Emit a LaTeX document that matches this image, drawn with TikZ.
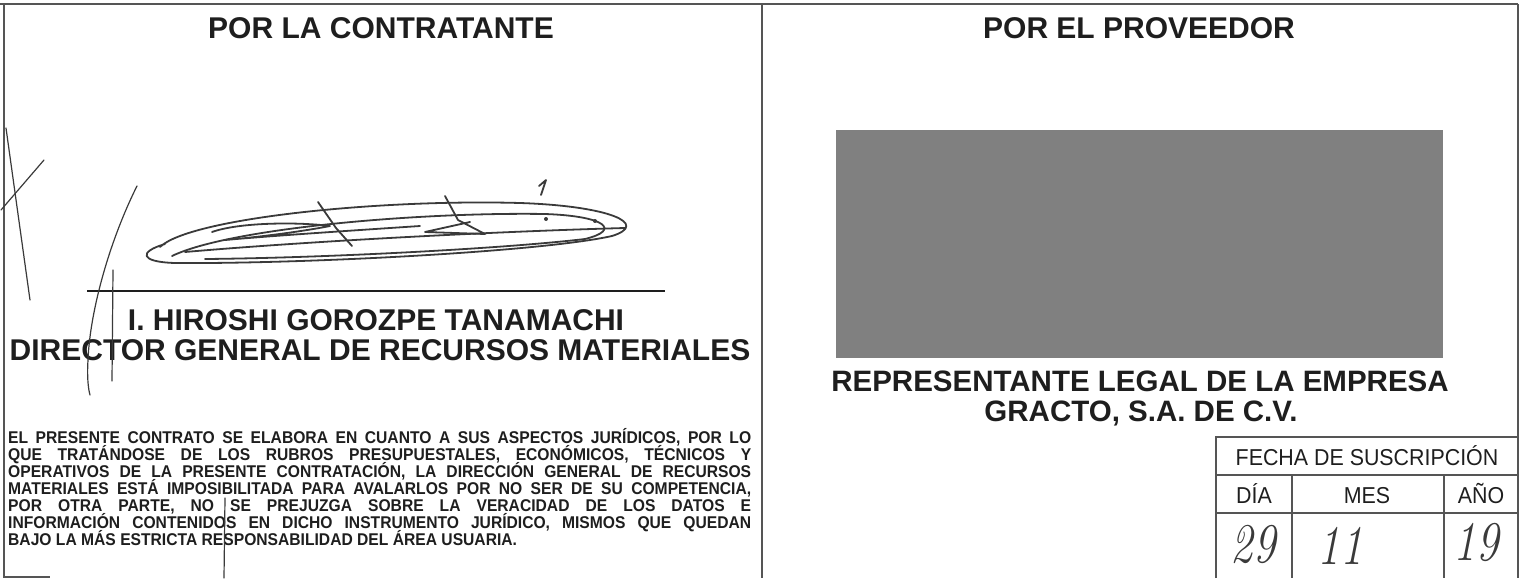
\documentclass[tikz,border=0pt]{standalone}
\usepackage{fontspec}
\newfontfamily\arial{Liberation Sans}
\newfontfamily\arialn[FakeStretch=0.92]{Liberation Sans}
\newfontfamily\arialt[FakeStretch=0.93]{Liberation Sans}
\newfontfamily\hand{Latin Modern Roman}
\definecolor{ink}{HTML}{1E1E1E}
\definecolor{rule}{HTML}{555555}
\definecolor{pen}{HTML}{3A3A3A}
\definecolor{veil}{HTML}{808080}
\tikzset{
  frame/.style={draw=rule, line width=1.4pt},
  cell/.style={draw=rule, line width=1.1pt},
  heading/.style={inner sep=0pt, text=ink, font=\arial\bfseries\fontsize{30}{32}\selectfont},
  bigname/.style={inner sep=0pt, text=ink, font=\arial\bfseries\fontsize{29.5}{31}\selectfont},
  para/.style={inner sep=0pt, anchor=base west, text=ink, font=\arialn\bfseries\fontsize{17}{17}\selectfont},
  tabtext/.style={inner sep=0pt, anchor=base, text=ink, font=\arialt\fontsize{23}{25}\selectfont},
  handtext/.style={inner sep=0pt, anchor=base, text=pen, font=\hand\itshape\fontsize{56}{58}\selectfont},
  sig/.style={draw=pen, line width=1.8pt, line cap=round, line join=round},
  stray/.style={draw=pen, line width=1.2pt, line cap=round}
}
\newcommand{\jline}[1]{\makebox[743pt][s]{#1}}
\newcommand{\handnum}[1]{\scalebox{0.8}[1]{#1}}
\begin{document}
\begin{tikzpicture}[x=1pt,y=-1pt]
\useasboundingbox (0,0) rectangle (1530,578);
% frame
\coordinate (tl) at (4,4);
\coordinate (tr) at (1518,4);
\coordinate (bl) at (4,578);
\coordinate (tm) at (762,4);
\coordinate (bm) at (762,578);
\coordinate (br) at (1518,437);
\coordinate (blend) at (50,577);
\coordinate (blstart) at (4,577);
\draw[frame] (0,4) -- (tr);
\draw[frame] (tl) -- (bl);
\draw[frame] (tm) -- (bm);
\draw[frame] (tr) -- (br);
\draw[frame] (blstart) -- (blend);

% titles
\node[heading, anchor=base] (t1) at (381,38) {POR LA CONTRATANTE};
\node[heading, anchor=base] (t2) at (1139,38) {POR EL PROVEEDOR};

% signature line and names
\coordinate (sl1) at (87,291);
\coordinate (sl2) at (665,291);
\draw[draw=ink, line width=1.6pt] (sl1) -- (sl2);
\node[heading, anchor=base] (n1) at (376,330) {I. HIROSHI GOROZPE TANAMACHI};
\node[heading, anchor=base] (n2) at (380,360) {DIRECTOR GENERAL DE RECURSOS MATERIALES};

% paragraph
\node[para] (p1) at (8,443) {\jline{EL PRESENTE CONTRATO SE ELABORA EN CUANTO A SUS ASPECTOS JURÍDICOS, POR LO}};
\node[para] (p2) at (8,460) {\jline{QUE TRATÁNDOSE DE LOS RUBROS PRESUPUESTALES, ECONÓMICOS, TÉCNICOS Y}};
\node[para] (p3) at (8,477) {\jline{OPERATIVOS DE LA PRESENTE CONTRATACIÓN, LA DIRECCIÓN GENERAL DE RECURSOS}};
\node[para] (p4) at (8,494) {\jline{MATERIALES ESTÁ IMPOSIBILITADA PARA AVALARLOS POR NO SER DE SU COMPETENCIA,}};
\node[para] (p5) at (8,511) {\jline{POR OTRA PARTE, NO SE PREJUZGA SOBRE LA VERACIDAD DE LOS DATOS E}};
\node[para] (p6) at (8,528) {\jline{INFORMACIÓN CONTENIDOS EN DICHO INSTRUMENTO JURÍDICO, MISMOS QUE QUEDAN}};
\node[para] (p7) at (8,545) {BAJO LA MÁS ESTRICTA RESPONSABILIDAD DEL ÁREA USUARIA.};

% signature scribble
\draw[sig] (160,247) .. controls (190,218) and (380,199) .. (520,203)
  .. controls (610,206) and (650,224) .. (612,236)
  .. controls (540,252) and (300,264) .. (175,263)
  .. controls (140,262) and (138,252) .. (165,244);
\draw[sig] (172,256) .. controls (230,228) and (420,212) .. (545,214)
  .. controls (605,216) and (622,230) .. (585,239)
  .. controls (500,249) and (320,258) .. (205,259);
\draw[sig] (185,252) .. controls (300,242) and (480,232) .. (625,228);
\draw[sig] (212,232) .. controls (240,222) and (300,222) .. (330,226)
  .. controls (300,232) and (250,238) .. (225,240)
  .. controls (270,236) and (330,232) .. (420,226);
\draw[sig] (318,202) -- (336,228) -- (352,246);
\draw[sig] (445,196) -- (458,220) -- (485,234) -- (425,232) -- (470,222);
\draw[sig] (541,195) -- (546,180) -- (539,186);
\fill[pen] (546,219) circle (2pt);
\fill[pen] (595,221) circle (2pt);

% stray pen marks on the left
\draw[stray] (6,128) -- (30,300);
\draw[stray] (1,210) -- (44,160);
\draw[stray] (137,186) .. controls (110,240) and (90,310) .. (88,360)
  .. controls (87,375) and (88,388) .. (90,395);
\draw[stray] (113,270) -- (112,381);
\draw[stray] (225,498) -- (224,578);

% provider block
\node[fill=veil, draw=none, minimum width=607pt, minimum height=228pt, inner sep=0pt, anchor=north west] (veilbox) at (836,130) {};
\node[bigname, anchor=base] (r1) at (1140,391) {REPRESENTANTE LEGAL DE LA EMPRESA};
\node[bigname, anchor=base] (r2) at (1141,421) {GRACTO, S.A. DE C.V.};

% date table
\coordinate (ta) at (1216,437);
\coordinate (tb) at (1518,437);
\coordinate (tc) at (1216,475);
\coordinate (td) at (1518,475);
\coordinate (te) at (1216,513);
\coordinate (tf) at (1518,513);
\coordinate (tg) at (1216,578);
\coordinate (th) at (1518,578);
\coordinate (c1a) at (1292,475);
\coordinate (c1b) at (1292,578);
\coordinate (c2a) at (1444,475);
\coordinate (c2b) at (1444,578);
\draw[cell] (tg) -- (ta) -- (tb) -- (th);
\draw[cell] (tc) -- (td);
\draw[cell] (te) -- (tf);
\draw[cell] (c1a) -- (c1b);
\draw[cell] (c2a) -- (c2b);
\node[tabtext] (fecha) at (1367,465) {FECHA DE SUSCRIPCIÓN};
\node[tabtext] (dia) at (1254,503) {DÍA};
\node[tabtext] (mes) at (1367,503) {MES};
\node[tabtext] (anio) at (1481,503) {AÑO};
\node[handtext] (d29) at (1253,562) {\handnum{29}};
\node[handtext] (m11) at (1340,564) {\handnum{11}};
\node[handtext] (y19) at (1476,560) {\handnum{19}};
\end{tikzpicture}
\end{document}
